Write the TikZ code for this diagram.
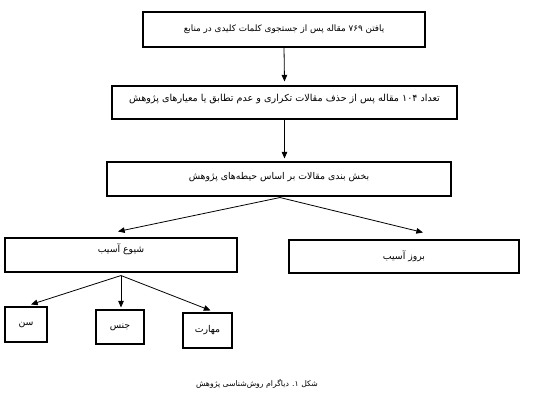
\documentclass[tikz,border=0pt]{standalone}
\usepackage{fontspec}
\usetikzlibrary{arrows.meta,calc}
\TeXXeTstate=1
\newfontfamily\fa[Script=Arabic]{DejaVu Sans}
\newcommand{\rtltext}[1]{{\fa\beginR #1\endR}}
\tikzset{
  boxnode/.style={draw, line width=0.8pt, inner sep=0pt, font=\fontsize{7}{8}\selectfont},
  arr/.style={-{Triangle[length=5pt,width=4.2pt]}, line width=0.6pt},
}
\begin{document}
\begin{tikzpicture}[x=0.75pt,y=-0.75pt]
\useasboundingbox (0,0) rectangle (534,409);
\node[boxnode, minimum width=211.5pt, minimum height=26.25pt, font=\fontsize{6.6}{8}\selectfont] (b1) at (284,29.5)
  {\rtltext{یافتن \beginL۷۶۹\endL{} مقاله پس از جستجوی کلمات کلیدی در منابع}};
\node[boxnode, minimum width=258.75pt, minimum height=24.75pt] (b2) at (284.5,102.5) {};
\node at ($(b2.north)+(0,14)$) [font=\fontsize{7.2}{8}\selectfont]
  (t2) {\rtltext{تعداد \beginL۱۰۴\endL{} مقاله پس از حذف مقالات تکراری و عدم تطابق یا معیارهای پژوهش}};
\node[boxnode, minimum width=258pt, minimum height=25.5pt] (b3) at (279,179) {};
\node at ($(b3.north)+(0,16)$) [font=\fontsize{7}{8}\selectfont]
  (t3) {\rtltext{بخش بندی مقالات بر اساس حیطه‌های پژوهش}};
\node[boxnode, minimum width=174pt, minimum height=25.5pt] (b4) at (121,255) {};
\node at ($(b4.north)+(0,12)$) [font=\fontsize{7}{8}\selectfont]
  (t4) {\rtltext{شیوع آسیب}};
\node[boxnode, minimum width=172.5pt, minimum height=24.75pt] (b5) at (404,256.5)
  {\rtltext{بروز آسیب}};
\node[boxnode, minimum width=31.5pt, minimum height=26.25pt] (s1) at (26,324.5)
  {\rtltext{سن}};
\node[boxnode, minimum width=36pt, minimum height=25.5pt] (s2) at (120,327)
  {\rtltext{جنس}};
\node[boxnode, minimum width=36.75pt, minimum height=26.25pt] (s3) at (207.5,330.5)
  {\rtltext{مهارت}};
\node[font=\fontsize{5.8}{7}\selectfont] (cap) at (257,384)
  {\rtltext{شکل \beginL۱\endL. دیاگرام روش‌شناسی پژوهش}};

\coordinate (e2) at ($(b2.north)+(0,-4)$);
\coordinate (s23) at (b2.south);
\coordinate (e3) at ($(s23 |- b3.north)+(0,-3)$);
\coordinate (j3) at ($(b3.south)+(1,1)$);
\coordinate (e4) at ($(b4.north)+(-3,-6)$);
\coordinate (e5) at ($(b5.north)+(19,-7)$);
\coordinate (j4) at ($(b4.south)+(0,3)$);
\coordinate (es1) at ($(s1.north)+(5,-2)$);
\coordinate (es2) at ($(s2.north)+(1,-2)$);
\coordinate (es3) at ($(s3.north)+(3,-2)$);

\draw[arr] (b1.south) -- (e2);
\draw[arr] (s23) -- (e3);
\draw[arr] (j3) -- (e4);
\draw[arr] (j3) -- (e5);
\draw[arr] (j4) -- (es1);
\draw[arr] (j4) -- (es2);
\draw[arr] (j4) -- (es3);
\end{tikzpicture}
\end{document}
